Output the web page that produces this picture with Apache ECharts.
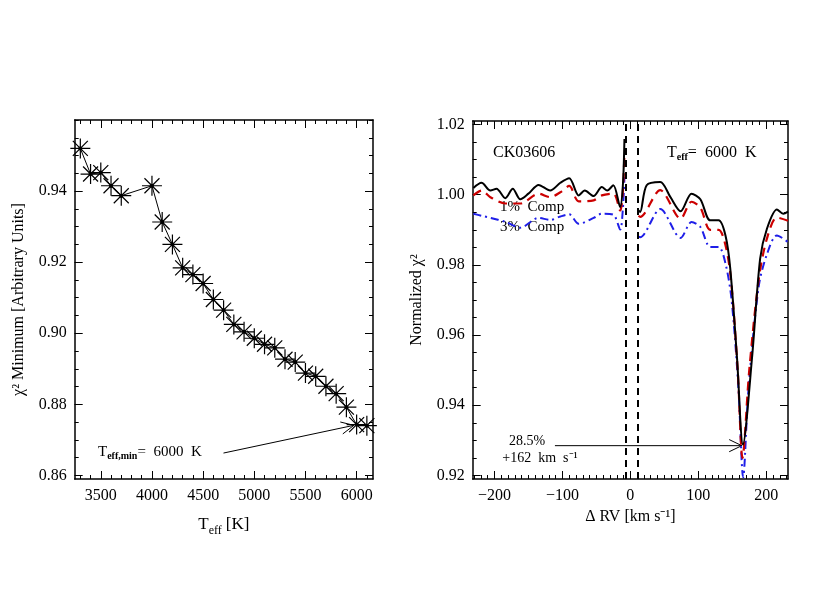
<!DOCTYPE html>
<html><head><meta charset="utf-8">
<script src="https://cdn.jsdelivr.net/npm/echarts@6/dist/echarts.min.js"></script>
<style>html,body{margin:0;background:#fff}#c{width:830px;height:600px}</style>
</head><body><div id="c"></div>
<script>
const teff = [3300,3400,3500,3600,3700,4000,4100,4200,4300,4400,4500,4600,4700,4800,4900,5000,5100,5200,5300,5400,5500,5600,5700,5800,5900,6000,6100];
const chi2min = [0.9520,0.9448,0.9452,0.9415,0.9387,0.9415,0.9313,0.9250,0.9184,0.9165,0.9140,0.9095,0.9065,0.9025,0.9004,0.8986,0.8969,0.8959,0.8927,0.8919,0.8888,0.8879,0.8851,0.8830,0.8792,0.8743,0.8740];

const rvBlack = [-231,-219,-206,-197,-184,-173,-162,-150,-135,-118,-103,-90,-76,-67,-54,-42,-34,-25,-15,-11,-8.7,2,12,14.4,24,44,59,74,90,103,117.5,130,140,147,157,165.7,179,191,201,215.7,225,232];
const chiBlack = [1.0019,1.0034,1.0012,1.0017,0.9990,1.0017,0.9987,1.0003,1.0028,1.0012,1.0034,1.0047,0.9998,1.0012,0.9996,1.0022,1.0012,1.0027,0.9965,1.0027,1.0159,null,0.9955,0.9951,1.0027,1.0036,0.9993,0.9953,1.0003,0.9987,0.9927,0.9927,0.9884,0.9790,0.9534,0.9288,0.9534,0.9818,0.9903,0.9958,0.9946,0.9952];
const rvRed = [-231,-219,-206,-184,-162,-135,-118,-103,-90,-76,-54,-42,-25,-15,-11,-8.7,2,12,14.4,44,74,90,103,117.5,130,140,148,158,165,175,189,201,215.7,232];
const chiRed = [0.9998,1.0012,0.9993,0.9975,0.9975,1.0003,0.9993,1.0007,1.0025,0.9981,0.9984,0.9998,1.0003,0.9955,1.0010,1.0120,null,0.9940,0.9937,1.0013,0.9932,0.9980,0.9963,0.9900,0.9900,0.9856,0.9760,0.9500,0.9250,0.9500,0.9760,0.9875,0.9935,0.9926];
const rvBlue = [-231,-219,-206,-184,-162,-135,-118,-103,-90,-76,-54,-42,-25,-15,-11,-8.7,2,12,14.4,44,74,90,103,117.5,130,140,149,159,166,174,189,201,215.7,232];
const chiBlue = [0.9946,0.9940,0.9934,0.9923,0.9906,0.9934,0.9928,0.9938,0.9944,0.9917,0.9934,0.9946,0.9943,0.9901,0.9960,1.0050,null,0.9880,0.9879,0.9959,0.9877,0.9922,0.9908,0.9851,0.9851,0.9804,0.9700,0.9450,0.9195,0.9450,0.9740,0.9830,0.9884,0.9865];

const leftXMajor=[3500,4000,4500,5000,5500,6000];
const leftYMajor=[0.86,0.88,0.90,0.92,0.94];
const rightXMajor=[-200,-100,0,100,200];
const rightYMajor=[0.92,0.94,0.96,0.98,1.00,1.02];

function range(a,b,s){const r=[];for(let v=a;v<=b+1e-9;v+=s)r.push(+v.toFixed(4));return r;}
const F='Liberation Serif';
const chart=echarts.init(document.getElementById('c'));
const grids=[{left:74.7,top:120,width:298.3,height:359},{left:472.7,top:121,width:315.3,height:358}];
const lims=[{x:[3245,6160],y:[0.859,0.96]},{x:[-232,232],y:[0.919,1.021]}];
const majors=[{x:leftXMajor,y:leftYMajor,xf:v=>String(v),yf:v=>v.toFixed(2)},{x:rightXMajor,y:rightYMajor,xf:v=>v<0?'\u2212'+(-v):String(v),yf:v=>v.toFixed(2)}];
const minors=[{x:range(3300,6100,100),y:range(0.86,0.96,0.005)},{x:range(-230,230,10),y:range(0.92,1.02,0.005)}];
const names=[{x:'{a|T}{s|eff} {a|[K]}',y:'\u03c7\u00b2 Minimum [Arbitrary Units]'},{x:'\u0394 RV [km s\u207b\u00b9]',y:'Normalized \u03c7\u00b2'}];
const xAxis=[],yAxis=[];
const xIdx=[],yIdx=[];
for(let g=0;g<2;g++){
  xIdx.push(xAxis.length);
  [['bottom',true,8,majors[g].x],['top',false,8,majors[g].x],['bottom',false,4,minors[g].x],['top',false,4,minors[g].x]].forEach((d,i)=>{
    xAxis.push({type:'value',gridIndex:g,position:d[0],min:lims[g].x[0],max:lims[g].x[1],
      splitLine:{show:false},axisLine:{show:i<2,onZero:false,lineStyle:{color:'#000',width:1.5}},
      axisTick:{show:true,inside:true,length:d[2],customValues:d[3],lineStyle:{color:'#000'}},
      axisLabel:{show:d[1],customValues:d[3],formatter:majors[g].xf,color:'#000',fontFamily:F,fontSize:16,margin:9},
      name:d[1]?names[g].x:'',nameLocation:'middle',nameGap:g==0?34:30,
      nameTextStyle:{color:'#000',fontFamily:F,fontSize:16,rich:{a:{fontSize:17,fontFamily:F},s:{fontSize:12,fontFamily:F,padding:[12,0,0,0]}}}});
  });
  yIdx.push(yAxis.length);
  [['left',true,8,majors[g].y],['right',false,8,majors[g].y],['left',false,4,minors[g].y],['right',false,4,minors[g].y]].forEach((d,i)=>{
    yAxis.push({type:'value',gridIndex:g,position:d[0],min:lims[g].y[0],max:lims[g].y[1],
      splitLine:{show:false},axisLine:{show:i<2,onZero:false,lineStyle:{color:'#000',width:1.5}},
      axisTick:{show:true,inside:true,length:d[2],customValues:d[3],lineStyle:{color:'#000'}},
      axisLabel:{show:d[1],customValues:d[3],formatter:majors[g].yf,color:'#000',fontFamily:F,fontSize:16,margin:8},
      name:d[1]?names[g].y:'',nameLocation:'middle',nameGap:48,
      nameTextStyle:{color:'#000',fontFamily:F,fontSize:16}});
  });
}
const star='path://M0,-10L0,10M-10,0L10,0M-7.5,-7.5L7.5,7.5M-7.5,7.5L7.5,-7.5';
const z=(a,b)=>a.map((v,i)=>[v,b[i]]);
chart.setOption({
  animation:false,
  grid:grids,xAxis,yAxis,
  series:[
    {type:'line',xAxisIndex:xIdx[0],yAxisIndex:yIdx[0],data:z(teff,chi2min),symbol:star,symbolSize:20,
      lineStyle:{color:'#000',width:1},itemStyle:{color:'rgba(0,0,0,0)',borderColor:'#000',borderWidth:1.2},z:3},
    {type:'line',xAxisIndex:xIdx[0],yAxisIndex:yIdx[0],data:z(teff,chi2min),symbol:'circle',symbolSize:4,
      lineStyle:{width:0},itemStyle:{color:'#000'},z:4},
    {type:'line',xAxisIndex:xIdx[1],yAxisIndex:yIdx[1],data:z(rvBlue,chiBlue),smooth:0.3,showSymbol:false,connectNulls:false,
      lineStyle:{color:'#1f1fe8',width:2,type:[8,4,2,4]}},
    {type:'line',xAxisIndex:xIdx[1],yAxisIndex:yIdx[1],data:z(rvRed,chiRed),smooth:0.3,showSymbol:false,connectNulls:false,
      lineStyle:{color:'#cc0000',width:2.2,type:[9,6]}},
    {type:'line',xAxisIndex:xIdx[1],yAxisIndex:yIdx[1],data:z(rvBlack,chiBlack),smooth:0.3,showSymbol:false,connectNulls:false,
      lineStyle:{color:'#000',width:2},
      markLine:{symbol:'none',silent:true,label:{show:false},lineStyle:{color:'#000',width:2,type:[7,5]},
        data:[{xAxis:-7},{xAxis:11}]}}
  ]
});
function P(g,x,y){return chart.convertToPixel({xAxisIndex:xIdx[g],yAxisIndex:yIdx[g]},[x,y]);}
function arrow(a,b){
  const ang=Math.atan2(b[1]-a[1],b[0]-a[0]),L=14,w=0.45;
  const p1=[b[0]-L*Math.cos(ang-w),b[1]-L*Math.sin(ang-w)],p2=[b[0]-L*Math.cos(ang+w),b[1]-L*Math.sin(ang+w)];
  return [{type:'line',shape:{x1:a[0],y1:a[1],x2:b[0],y2:b[1]},style:{stroke:'#000',lineWidth:1}},
          {type:'polyline',shape:{points:[p1,b,p2]},style:{stroke:'#000',lineWidth:1,fill:null}}];
}
const la=P(0,4699,0.8663),lb=P(0,5973,0.8741);
const ra=P(1,-111,0.9285),rb=P(1,164,0.9285);
const T=(x,y,text,extra)=>({type:'text',x,y,style:Object.assign({text,fill:'#000',font:'15px '+F,textVerticalAlign:'middle'},extra||{})});
chart.setOption({graphic:[
  ...arrow(la,lb),...arrow(ra,rb),
  {type:'text',x:98,y:452,style:{text:'{a|T}{s|eff,min}{a|=  6000  K}',textVerticalAlign:'middle',rich:{a:{fontSize:15,fontFamily:F,fill:'#000'},s:{fontSize:10,fontFamily:F,fontWeight:'bold',fill:'#000',padding:[8,0,0,0]}}}},
  {type:'text',x:527,y:441,style:{text:'28.5%',fill:'#000',font:'14px '+F,align:'center',verticalAlign:'middle'}},
  {type:'text',x:540,y:458,style:{text:'+162  km  s\u207b\u00b9',fill:'#000',font:'14px '+F,align:'center',verticalAlign:'middle'}},
  T(500,207,'1%  Comp'),T(500,227,'3%  Comp'),
  {type:'text',x:493,y:153,style:{text:'CK03606',fill:'#000',font:'16px '+F,verticalAlign:'middle'}},
  {type:'text',x:667,y:153,style:{text:'{a|T}{s|eff}{a|=  6000  K}',verticalAlign:'middle',rich:{a:{fontSize:16,fontFamily:F,fill:'#000'},s:{fontSize:10,fontFamily:F,fontWeight:'bold',fill:'#000',padding:[8,0,0,0]}}}}
]});
</script></body></html>
